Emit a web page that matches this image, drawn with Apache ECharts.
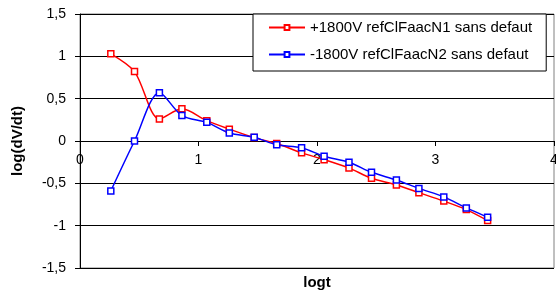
<!DOCTYPE html>
<html>
<head>
<meta charset="utf-8">
<script src="https://cdn.jsdelivr.net/npm/echarts@6/dist/echarts.min.js"></script>
<style>
  html, body { margin: 0; padding: 0; background: #fff; }
  #chart { width: 556px; height: 298px; }
</style>
</head>
<body>
<div id="chart"></div>
<script>
// log t values (shared by both series)
const logT = [0.26, 0.46, 0.67, 0.86, 1.07, 1.26, 1.47, 1.66, 1.87, 2.06, 2.27, 2.46, 2.67, 2.86, 3.07, 3.26, 3.44];
// log(dV/dt) values
const posN1 = [1.03, 0.82, 0.26, 0.38, 0.24, 0.14, 0.04, -0.03, -0.14, -0.22, -0.32, -0.44, -0.52, -0.61, -0.71, -0.81, -0.94];
const negN2 = [-0.59, 0.0, 0.57, 0.30, 0.22, 0.095, 0.045, -0.045, -0.08, -0.18, -0.25, -0.37, -0.46, -0.56, -0.66, -0.79, -0.90];
const seriesNames = ['+1800V refClFaacN1 sans defaut', '-1800V refClFaacN2 sans defaut'];

const font = 'Arial, "Liberation Sans", sans-serif';
const pairs = ys => logT.map((x, i) => [x, ys[i]]);

function lineSeries(name, ys, col) {
  return {
    name: name,
    type: 'line',
    data: pairs(ys),
    smooth: 0.3,
    symbol: 'rect',
    symbolSize: 6,
    showAllSymbol: true,
    lineStyle: { color: col, width: 1.5 },
    itemStyle: { color: '#fff', borderColor: col, borderWidth: 1.5 },
    emphasis: { disabled: true }
  };
}

const chart = echarts.init(document.getElementById('chart'));
chart.setOption({
  animation: false,
  backgroundColor: '#fff',
  textStyle: { fontFamily: font },
  grid: {
    left: 80, right: 2, top: 14, bottom: 30,
    outerBoundsMode: 'none', containLabel: false,
    show: true, borderColor: '#808080', borderWidth: 1
  },
  legend: {
    orient: 'vertical',
    left: 253,
    top: 14,
    padding: [6, 14, 9, 15],
    itemGap: 12,
    itemWidth: 36,
    itemHeight: 6,
    backgroundColor: '#fff',
    borderColor: '#000',
    borderWidth: 1,
    borderRadius: 0,
    textStyle: { fontFamily: font, fontSize: 15, lineHeight: 15, color: '#000' },
    data: seriesNames
  },
  xAxis: {
    type: 'value',
    min: 0, max: 4, interval: 1,
    // axis drawn through y = 0 (middle of the plot)
    offset: -127,
    name: 'logt',
    nameLocation: 'middle',
    nameGap: 134,
    nameTextStyle: { fontFamily: font, fontSize: 15, fontWeight: 'bold', color: '#000' },
    axisLine: { onZero: false, lineStyle: { color: '#000', width: 1 } },
    axisTick: { show: true, length: 5, lineStyle: { color: '#000' } },
    axisLabel: { margin: 12, fontFamily: font, fontSize: 14, color: '#000' },
    splitLine: { show: false }
  },
  yAxis: {
    type: 'value',
    min: -1.5, max: 1.5, interval: 0.5,
    name: 'log(dV/dt)',
    nameLocation: 'middle',
    nameGap: 55,
    nameTextStyle: { fontFamily: font, fontSize: 15, fontWeight: 'bold', color: '#000' },
    axisLine: { show: true, lineStyle: { color: '#000', width: 1 } },
    axisTick: { show: true, length: 5, lineStyle: { color: '#000' } },
    axisLabel: {
      margin: 14, fontFamily: font, fontSize: 14, color: '#000',
      formatter: v => String(v).replace('.', ',')
    },
    splitLine: { show: true, lineStyle: { color: '#000', width: 1 } }
  },
  series: [
    lineSeries(seriesNames[0], posN1, '#ff0000'),
    lineSeries(seriesNames[1], negN2, '#0000ff')
  ]
});
</script>
</body>
</html>
